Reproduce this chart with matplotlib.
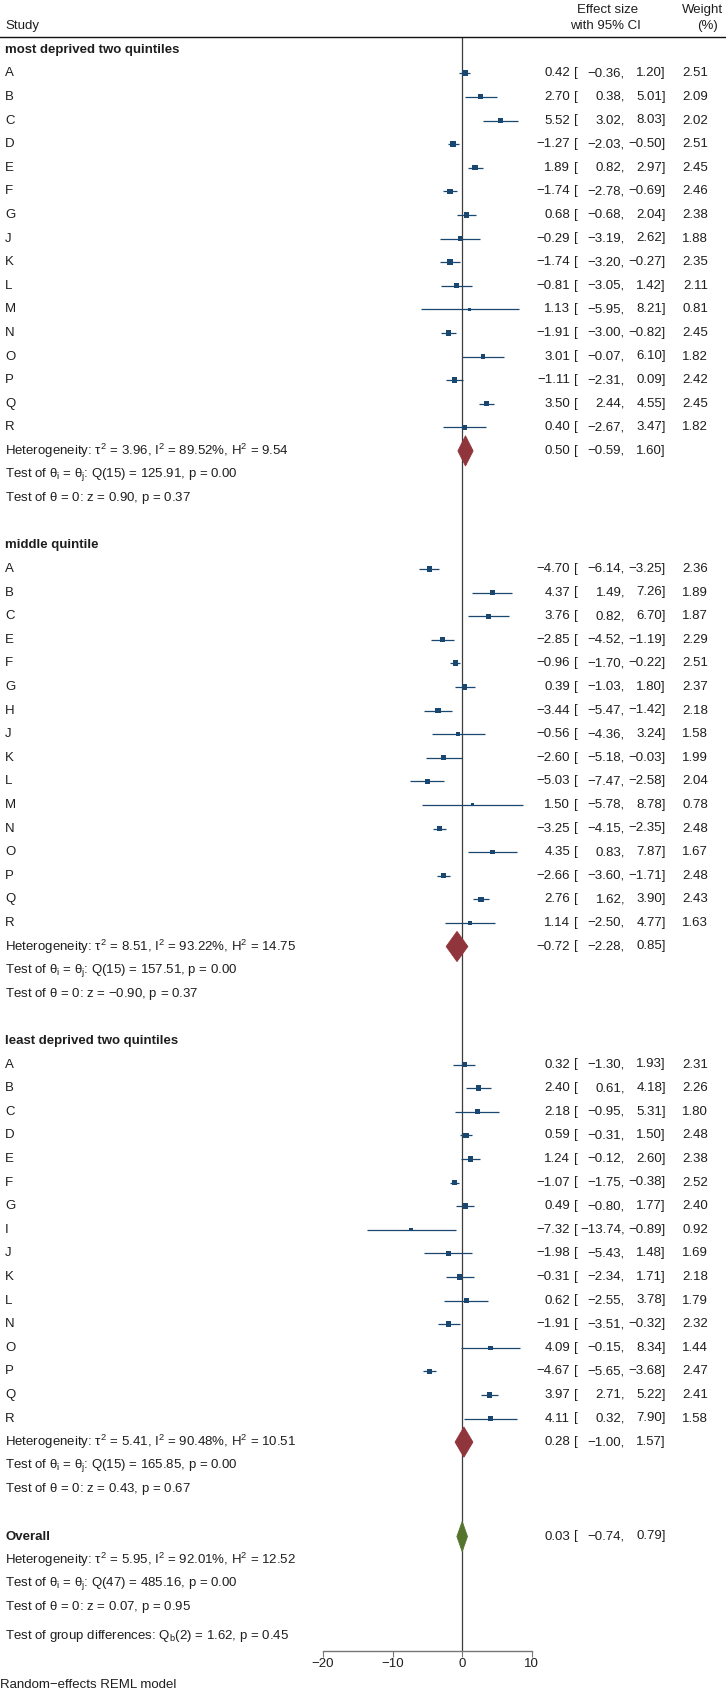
import numpy as np
import matplotlib
matplotlib.use('Agg')
import matplotlib.pyplot as plt
import matplotlib.transforms as mtransforms
from matplotlib.patches import Polygon

plt.rcParams['font.family'] = ['Liberation Sans', 'DejaVu Sans']
plt.rcParams['mathtext.fontset'] = 'custom'
plt.rcParams['mathtext.rm'] = 'Liberation Sans'
plt.rcParams['mathtext.it'] = 'Liberation Sans'

# ---- data ----
group_names = ['most deprived two quintiles', 'middle quintile', 'least deprived two quintiles']

studies_1 = ['A', 'B', 'C', 'D', 'E', 'F', 'G', 'J', 'K', 'L', 'M', 'N', 'O', 'P', 'Q', 'R']
est_1 = [0.42, 2.70, 5.52, -1.27, 1.89, -1.74, 0.68, -0.29, -1.74, -0.81, 1.13, -1.91, 3.01, -1.11, 3.50, 0.40]
lo_1 = [-0.36, 0.38, 3.02, -2.03, 0.82, -2.78, -0.68, -3.19, -3.20, -3.05, -5.95, -3.00, -0.07, -2.31, 2.44, -2.67]
hi_1 = [1.20, 5.01, 8.03, -0.50, 2.97, -0.69, 2.04, 2.62, -0.27, 1.42, 8.21, -0.82, 6.10, 0.09, 4.55, 3.47]
wt_1 = [2.51, 2.09, 2.02, 2.51, 2.45, 2.46, 2.38, 1.88, 2.35, 2.11, 0.81, 2.45, 1.82, 2.42, 2.45, 1.82]

studies_2 = ['A', 'B', 'C', 'E', 'F', 'G', 'H', 'J', 'K', 'L', 'M', 'N', 'O', 'P', 'Q', 'R']
est_2 = [-4.70, 4.37, 3.76, -2.85, -0.96, 0.39, -3.44, -0.56, -2.60, -5.03, 1.50, -3.25, 4.35, -2.66, 2.76, 1.14]
lo_2 = [-6.14, 1.49, 0.82, -4.52, -1.70, -1.03, -5.47, -4.36, -5.18, -7.47, -5.78, -4.15, 0.83, -3.60, 1.62, -2.50]
hi_2 = [-3.25, 7.26, 6.70, -1.19, -0.22, 1.80, -1.42, 3.24, -0.03, -2.58, 8.78, -2.35, 7.87, -1.71, 3.90, 4.77]
wt_2 = [2.36, 1.89, 1.87, 2.29, 2.51, 2.37, 2.18, 1.58, 1.99, 2.04, 0.78, 2.48, 1.67, 2.48, 2.43, 1.63]

studies_3 = ['A', 'B', 'C', 'D', 'E', 'F', 'G', 'I', 'J', 'K', 'L', 'N', 'O', 'P', 'Q', 'R']
est_3 = [0.32, 2.40, 2.18, 0.59, 1.24, -1.07, 0.49, -7.32, -1.98, -0.31, 0.62, -1.91, 4.09, -4.67, 3.97, 4.11]
lo_3 = [-1.30, 0.61, -0.95, -0.31, -0.12, -1.75, -0.80, -13.74, -5.43, -2.34, -2.55, -3.51, -0.15, -5.65, 2.71, 0.32]
hi_3 = [1.93, 4.18, 5.31, 1.50, 2.60, -0.38, 1.77, -0.89, 1.48, 1.71, 3.78, -0.32, 8.34, -3.68, 5.22, 7.90]
wt_3 = [2.31, 2.26, 1.80, 2.48, 2.38, 2.52, 2.40, 0.92, 1.69, 2.18, 1.79, 2.32, 1.44, 2.47, 2.41, 1.58]

# subgroup summaries: estimate, lower, upper
sum_est = [0.50, -0.72, 0.28]
sum_lo = [-0.59, -2.28, -1.00]
sum_hi = [1.60, 0.85, 1.57]
tau2 = [3.96, 8.51, 5.41]
i2 = [89.52, 93.22, 90.48]
h2 = [9.54, 14.75, 10.51]
q_df = [15, 15, 15]
q_stat = [125.91, 157.51, 165.85]
q_p = [0.00, 0.00, 0.00]
z_stat = [0.90, -0.90, 0.43]
z_p = [0.37, 0.37, 0.67]

overall = [0.03, -0.74, 0.79]
overall_het = [5.95, 92.01, 12.52]
overall_q = [47, 485.16, 0.00]
overall_z = [0.07, 0.95]
qb = [2, 1.62, 0.45]

groups = [
    (studies_1, est_1, lo_1, hi_1, wt_1),
    (studies_2, est_2, lo_2, hi_2, wt_2),
    (studies_3, est_3, lo_3, hi_3, wt_3),
]

# ---- styling ----
W, H = 726, 1693
FS = 9.5
txt_col = '#1e1e1e'
navy = '#1a476f'
maroon = '#90353b'
green = '#55752f'


def m(v):
    return f'{v:.2f}'.replace('-', '\u2212')


fig = plt.figure(figsize=(W / 100, H / 100), dpi=100)
y_top_px, y_bot_px = 37, 1651
ax = fig.add_axes([0, 1 - y_bot_px / H, 1, (y_bot_px - y_top_px) / H])
row0_px, row_h = 49.7, 23.6
x0_px, unit = 462, 6.95
ax.set_xlim(-x0_px / unit, (W - x0_px) / unit)
ax.set_ylim((y_bot_px - row0_px) / row_h, (y_top_px - row0_px) / row_h)

for s in ['left', 'right']:
    ax.spines[s].set_visible(False)
ax.spines['top'].set_linewidth(1.0)
ax.spines['top'].set_color('#111111')
ax.spines['bottom'].set_bounds(-20, 10)
ax.spines['bottom'].set_color('#777777')
ax.spines['bottom'].set_linewidth(1.0)
ax.set_xticks([-20, -10, 0, 10])
ax.set_xticklabels([str(t).replace('-', '\u2212') for t in [-20, -10, 0, 10]])
ax.tick_params(axis='x', length=4, color='#777777', labelsize=FS, labelcolor=txt_col, pad=1)
ax.set_yticks([])
ax.patch.set_alpha(0)

ax.axvline(0, color='#3c3c3c', lw=0.9, zorder=1)

# x in figure fraction, y in row units
trans = mtransforms.blended_transform_factory(fig.transFigure, ax.transData)


def put(xpx, row, s, ha='left', bold=False):
    ax.text(xpx / W, row, s, transform=trans, ha=ha, va='center', fontsize=FS,
            color=txt_col, fontweight='bold' if bold else 'normal', clip_on=False)


def ci_text(row, e, lo, hi, w=None):
    put(570, row, m(e), ha='right')
    put(574, row, '[')
    put(625, row, m(lo) + ',', ha='right')
    put(666, row, m(hi) + ']', ha='right')
    if w is not None:
        put(708, row, m(w), ha='right')


def diamond(row, e, lo, hi, color):
    half = 0.64
    ax.add_patch(Polygon([(lo, row), (e, row - half), (hi, row), (e, row + half)],
                         closed=True, facecolor=color, edgecolor=color, lw=0.6, zorder=3))


LX = 5
row = 0
for g, (names, est, lo, hi, wt) in enumerate(groups):
    put(LX, row, group_names[g], bold=True)
    rows = np.arange(len(names)) + row + 1
    for r, nm, e, l, h, w in zip(rows, names, est, lo, hi, wt):
        put(LX, r, nm)
        ci_text(r, e, l, h, w)
    ax.hlines(rows, lo, hi, color=navy, lw=0.9, zorder=2)
    ax.scatter(est, rows, marker='s', s=np.array(wt) * 6.5, color=navy, zorder=3, linewidths=0)
    r = rows[-1] + 1
    put(LX, r, 'Heterogeneity: $\\tau^2$ = %.2f, I$^2$ = %.2f%%, H$^2$ = %.2f' % (tau2[g], i2[g], h2[g]))
    diamond(r, sum_est[g], sum_lo[g], sum_hi[g], maroon)
    ci_text(r, sum_est[g], sum_lo[g], sum_hi[g])
    put(LX, r + 1, 'Test of $\\theta_\\mathrm{i}$ = $\\theta_\\mathrm{j}$: Q(%d) = %.2f, p = %.2f' % (q_df[g], q_stat[g], q_p[g]))
    put(LX, r + 2, 'Test of $\\theta$ = 0: z = %s, p = %.2f' % (m(z_stat[g]), z_p[g]))
    row = r + 4

# overall
put(LX, row, 'Overall', bold=True)
diamond(row, overall[0], overall[1], overall[2], green)
ci_text(row, *overall)
put(LX, row + 1, 'Heterogeneity: $\\tau^2$ = %.2f, I$^2$ = %.2f%%, H$^2$ = %.2f' % tuple(overall_het))
put(LX, row + 2, 'Test of $\\theta_\\mathrm{i}$ = $\\theta_\\mathrm{j}$: Q(%d) = %.2f, p = %.2f' % tuple(overall_q))
put(LX, row + 3, 'Test of $\\theta$ = 0: z = %.2f, p = %.2f' % tuple(overall_z))
put(LX, row + 4.22, 'Test of group differences: Q$_\\mathrm{b}$(%d) = %.2f, p = %.2f' % tuple(qb))

# header
fig.text(LX / W, 1 - 26 / H, 'Study', ha='left', va='center', fontsize=FS, color=txt_col)
fig.text(608 / W, 1 - 10 / H, 'Effect size', ha='center', va='center', fontsize=FS, color=txt_col)
fig.text(605 / W, 1 - 26 / H, 'with 95% CI', ha='center', va='center', fontsize=FS, color=txt_col)
fig.text(723 / W, 1 - 10 / H, 'Weight', ha='right', va='center', fontsize=FS, color=txt_col)
fig.text(707 / W, 1 - 26 / H, '(%)', ha='center', va='center', fontsize=FS, color=txt_col)
fig.text(0.5 / W, 1 - 1685 / H, 'Random\u2212effects REML model', ha='left', va='center', fontsize=FS, color=txt_col)

fig.savefig('out.png', dpi=100)
